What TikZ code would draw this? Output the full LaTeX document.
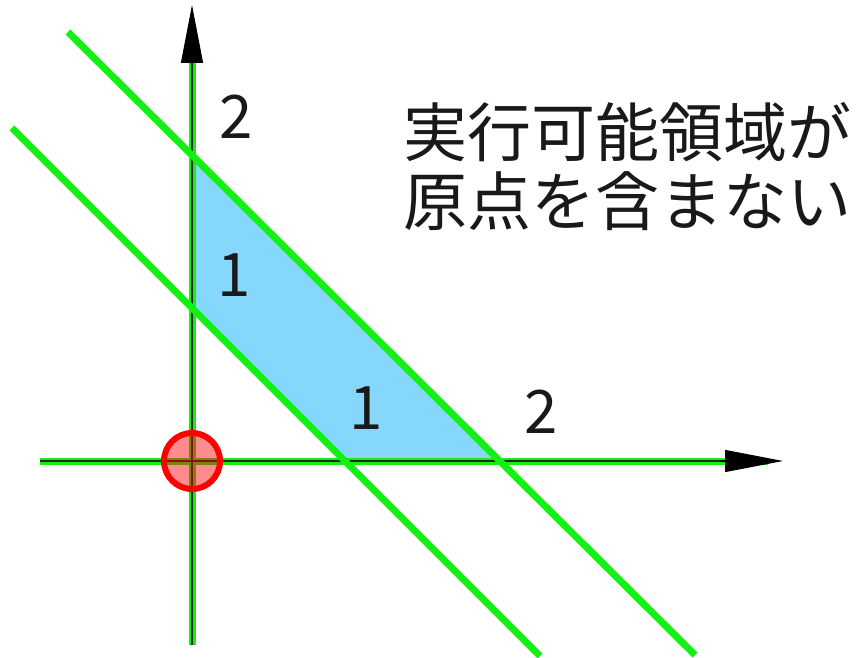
\documentclass[tikz,border=0pt]{standalone}
\usepackage{fontspec}
\setmainfont{Noto Sans CJK JP}
\usetikzlibrary{arrows.meta}
\definecolor{lgreen}{RGB}{20,240,20}
\definecolor{regblue}{RGB}{133,216,251}
\tikzset{
  gline/.style={draw=lgreen,line width=7pt},
  axisline/.style={draw=lgreen,line width=7pt},
  axiscore/.style={draw=black!85,line width=1.2pt},
  axisarrow/.style={draw=black,line width=1.2pt,-{Triangle[length=58pt,width=22pt]}},
  num/.style={font=\fontsize{60}{60}\selectfont,text=black!90,inner sep=0pt},
  jp/.style={font=\fontsize{64}{69}\selectfont,text=black!90,inner sep=0pt,anchor=west}
}
\begin{document}
\begin{tikzpicture}[x=1pt,y=-1pt]
\useasboundingbox (0,0) rectangle (862,658);
% key points (origin (192,461), unit 153)
\coordinate (O) at (192,461);
\coordinate (y1) at (192,308);
\coordinate (y2) at (192,155);
\coordinate (x1) at (345,461);
\coordinate (x2) at (498,461);
% feasible region
\fill[regblue] (y1) -- (y2) -- (x2) -- (x1) -- cycle;
% axes
\coordinate (xl) at (40,461);
\coordinate (xg) at (768,461);
\coordinate (xt) at (783,461);
\coordinate (yb) at (192,645);
\coordinate (yg) at (192,25);
\coordinate (yt) at (192,5);
\draw[axisline] (xl) -- (xg);
\draw[axisline] (yb) -- (yg);
\draw[axiscore] (xl) -- (xg);
\draw[axiscore] (yb) -- (yg);
\draw[axisarrow] (720,461) -- (xt);
\draw[axisarrow] (192,60) -- (yt);
% constraint lines
\coordinate (a1) at (68,32);
\coordinate (a2) at (695,655);
\coordinate (b1) at (12,128);
\coordinate (b2) at (540,656);
\draw[gline] (a1) -- (a2);
\draw[gline] (b1) -- (b2);
% origin marker
\node[circle,draw=red,line width=6pt,fill=red,fill opacity=0.45,draw opacity=1,minimum size=56pt,inner sep=0pt] (orig) at (O) {};
% labels
\node[num] (l2y) at (236,117) {2};
\node[num] (l1y) at (234,275) {1};
\node[num] (l1x) at (366,408) {1};
\node[num] (l2x) at (541,412) {2};
\node[jp] (t1) at (403,132) {実行可能領域が};
\node[jp] (t2) at (403,201) {原点を含まない};
\end{tikzpicture}
\end{document}
